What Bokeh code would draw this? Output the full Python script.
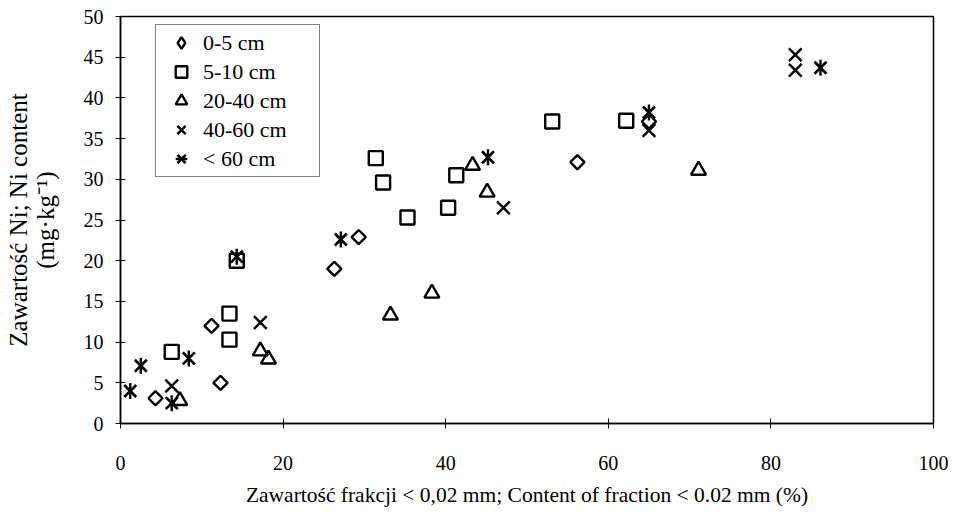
from bokeh.plotting import figure
from bokeh.models import Legend, LegendItem, FixedTicker, Range1d
from bokeh.embed import file_html
from bokeh.resources import INLINE
import math

# Data
d05_x = [4.3, 11.2, 12.3, 26.3, 29.3, 56.2, 65.0]
d05_y = [3.1, 12.0, 5.0, 19.0, 22.9, 32.1, 37.1]

d510_x = [6.3, 13.4, 13.4, 14.3, 31.4, 32.3, 35.3, 40.3, 41.3, 53.1, 62.2]
d510_y = [8.8, 13.5, 10.3, 20.0, 32.6, 29.6, 25.3, 26.5, 30.5, 37.1, 37.2]

d2040_x = [7.3, 17.2, 18.2, 33.2, 38.3, 43.3, 45.1, 71.1]
d2040_y = [2.8, 8.9, 7.9, 13.3, 16.0, 31.7, 28.4, 31.1]

d4060_x = [6.3, 17.2, 47.1, 65.0, 83.0, 83.0]
d4060_y = [4.6, 12.4, 26.5, 36.0, 45.3, 43.4]

d60_x = [1.2, 2.5, 6.3, 8.4, 14.3, 27.1, 45.2, 65.0, 86.1]
d60_y = [4.0, 7.1, 2.5, 8.0, 20.5, 22.6, 32.7, 38.2, 43.7]

labels = ["0-5 cm", "5-10 cm", "20-40 cm", "40-60 cm", "< 60 cm"]
x_ticks = [0, 20, 40, 60, 80, 100]
y_ticks = [0, 5, 10, 15, 20, 25, 30, 35, 40, 45, 50]

FONT = "Liberation Serif"

p = figure(width=952, height=508, frame_width=813, frame_height=407,
           min_border_left=120, min_border_right=19, min_border_top=16, min_border_bottom=85,
           x_range=Range1d(0, 100), y_range=Range1d(0, 50),
           output_backend="svg", toolbar_location=None, tools="")
p.grid.visible = False
p.outline_line_color = "black"
p.outline_line_width = 1.5
p.background_fill_color = "white"
p.border_fill_color = "white"

# a range used only by the legend proxy glyph, so that it never shows in the frame
p.extra_y_ranges = {"legend_proxy": Range1d(1000, 1001)}

for ax in (p.xaxis[0], p.yaxis[0]):
    ax.axis_line_color = "black"
    ax.axis_line_width = 1.5
    ax.major_tick_in = 5
    ax.major_tick_out = 5
    ax.major_tick_line_width = 1
    ax.minor_tick_line_color = None
    ax.major_label_text_font = FONT
    ax.major_label_text_font_size = "20px"
    ax.major_label_text_color = "black"
    ax.axis_label_text_font = FONT
    ax.axis_label_text_font_style = "normal"
    ax.axis_label_text_color = "black"

p.xaxis[0].ticker = FixedTicker(ticks=x_ticks)
p.yaxis[0].ticker = FixedTicker(ticks=y_ticks)
p.xaxis[0].major_label_standoff = 27
p.yaxis[0].major_label_standoff = 12
p.xaxis[0].axis_label = "Zawartość frakcji < 0,02 mm; Content of fraction < 0.02 mm (%)"
p.xaxis[0].axis_label_text_font_size = "21.5px"
p.xaxis[0].axis_label_standoff = 10
p.yaxis[0].axis_label = "Zawartość Ni; Ni content\n(mg·kg⁻¹)"
p.yaxis[0].axis_label_text_font_size = "25px"
p.yaxis[0].axis_label_text_line_height = 1.0
p.yaxis[0].axis_label_standoff = 22

LW = 2.4
r1 = p.scatter(d05_x, d05_y, marker="square", size=10, angle=math.pi / 4,
               fill_color=None, line_color="black", line_width=LW)
r2 = p.scatter(d510_x, d510_y, marker="square", size=14, fill_color=None,
               line_color="black", line_width=LW)
r3 = p.scatter(d2040_x, d2040_y, marker="triangle", size=15, fill_color=None,
               line_color="black", line_width=LW)
r4 = p.scatter(d4060_x, d4060_y, marker="x", size=18,
               line_color="black", line_width=LW)
r5a = p.scatter(d60_x, d60_y, marker="x", size=17,
                line_color="black", line_width=LW + 0.3)
r5b = p.scatter(d60_x, d60_y, marker="dash", size=16, angle=math.pi / 2,
                line_color="black", line_width=LW)

# legend proxy for the diamond (legend glyphs are drawn without rotation)
r1_leg = p.scatter(d05_x, d05_y, marker="diamond", fill_color=None,
                   line_color="black", line_width=LW, y_range_name="legend_proxy")

legend = Legend(items=[
    LegendItem(label=labels[0], renderers=[r1_leg]),
    LegendItem(label=labels[1], renderers=[r2]),
    LegendItem(label=labels[2], renderers=[r3]),
    LegendItem(label=labels[3], renderers=[r4]),
    LegendItem(label=labels[4], renderers=[r5a, r5b]),
], location=(35, 246))
legend.label_text_font = FONT
legend.label_text_font_size = "22px"
legend.label_text_color = "black"
legend.border_line_color = "black"
legend.border_line_width = 1
legend.background_fill_alpha = 1
legend.glyph_width = 44
legend.glyph_height = 29
legend.label_height = 22
legend.label_width = 113
legend.spacing = 0
legend.padding = 3
legend.margin = 0
legend.label_standoff = 0
p.add_layout(legend, "center")

open("out.html", "w").write(file_html(p, INLINE))
